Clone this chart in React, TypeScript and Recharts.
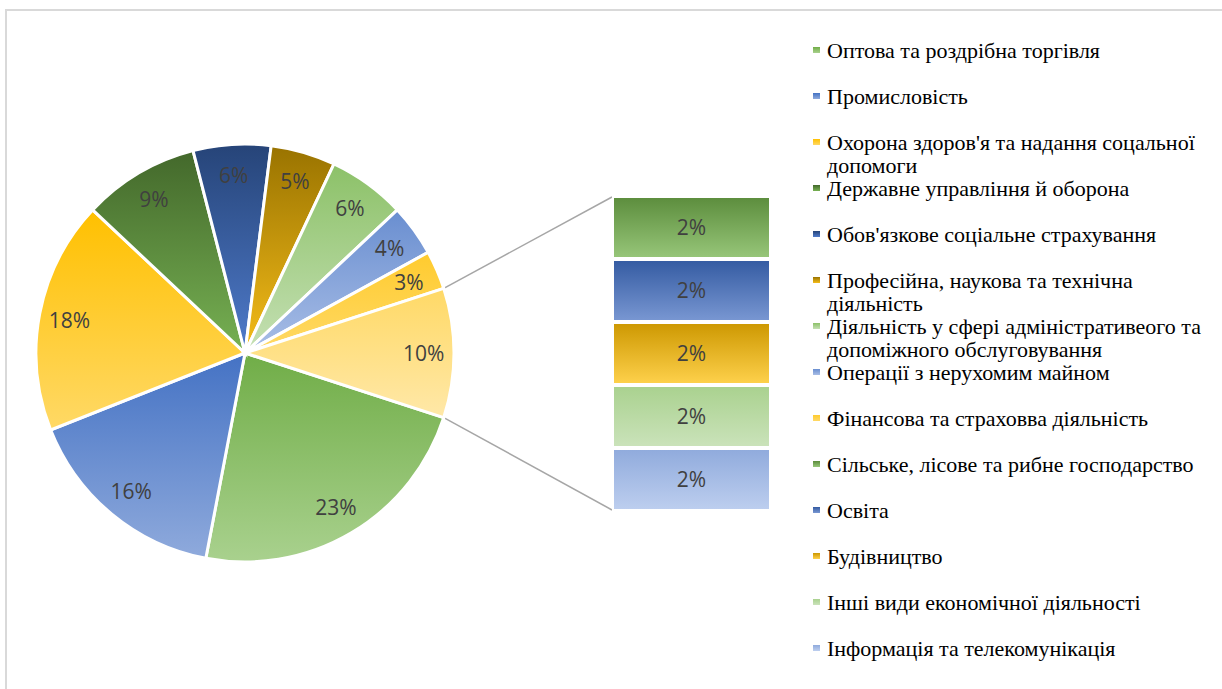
import React from "react";
import { PieChart, Pie, Cell, BarChart, Bar, XAxis, YAxis, LabelList } from "recharts";

// main pie (last slice = sum of the small branches shown in the bar)
const pieNames = [
  "Оптова та роздрібна торгівля",
  "Промисловість",
  "Охорона здоров'я та надання соцальної допомоги",
  "Державне управління й оборона",
  "Обов'язкове соціальне страхування",
  "Професійна, наукова та технічна діяльність",
  "Діяльність у сфері адміністративеого та допоміжного обслуговування",
  "Операції з нерухомим майном",
  "Фінансова та страховва діяльність",
  "Інші",
];
const pieValues = [23, 16, 18, 9, 6, 5, 6, 4, 3, 10];
const pieTop = ["#70AD47", "#4472C4", "#FFC000", "#43682B", "#264478", "#997300", "#8CC168", "#698ED0", "#FFCB2E", "#FFD966"];
const pieBottom = ["#A9D18E", "#8FAADC", "#FFD966", "#77B153", "#4F7BCB", "#F5BD1A", "#C5E0B4", "#A9BEE6", "#FFD966", "#FFE8A8"];

// secondary bar
const barNames = [
  "Сільське, лісове та рибне господарство",
  "Освіта",
  "Будівництво",
  "Інші види економічної діяльності",
  "Інформація та телекомунікація",
];
const barValues = [2, 2, 2, 2, 2];
const barTop = ["#5B8C3C", "#335AA1", "#CC9700", "#A9D18E", "#8FAADC"];
const barBottom = ["#98C77A", "#7A98D3", "#FFD24D", "#CBE3BB", "#BECFEF"];

const PIE_CX = 245;
const PIE_CY = 353;
const PIE_R = 209;
const BAR_LEFT = 612;
const BAR_TOP = 196;
const BAR_W = 159;
const BAR_H = 315;

const RAD = Math.PI / 180;
const pieTotal = pieValues.reduce((a, b) => a + b, 0);
const halfOther = (pieValues[pieValues.length - 1] / pieTotal) * 180;

const pieData = pieNames.map((name, i) => ({ name, value: pieValues[i] }));
const barRow: Record<string, number | string> = { name: "other" };
barValues.forEach((v, i) => (barRow["b" + i] = v));

const labelFont = "'Open Sans', 'DejaVu Sans', sans-serif";

function renderPieLabel(p: any) {
  const r = p.outerRadius * 0.855;
  const x = p.cx + r * Math.cos(-p.midAngle * RAD);
  const y = p.cy + r * Math.sin(-p.midAngle * RAD);
  const v = p.value ?? p.payload?.value;
  return (
    <text x={x} y={y} textAnchor="middle" dominantBaseline="central" fill="#404040" fontSize={21} fontFamily={labelFont}>
      {v}%
    </text>
  );
}

export default function App() {
  const edgeX = PIE_CX + PIE_R * Math.cos(halfOther * RAD);
  const edgeDy = PIE_R * Math.sin(halfOther * RAD);
  const legendNames = [...pieNames.slice(0, 9), ...barNames];
  const legendTop = [...pieTop.slice(0, 9), ...barTop];
  const legendBottom = [...pieBottom.slice(0, 9), ...barBottom];

  return (
    <div style={{ position: "absolute", left: 0, top: 0, width: 1222, height: 689, overflow: "hidden", background: "#fff" }}>
      <div style={{ position: "absolute", left: 5, top: 9, width: 1240, height: 720, border: "2px solid #d9d9d9" }} />

      <svg width={1222} height={689} style={{ position: "absolute", left: 0, top: 0 }}>
        <line x1={edgeX} y1={PIE_CY - edgeDy} x2={BAR_LEFT} y2={BAR_TOP + 1} stroke="#a6a6a6" strokeWidth={1.5} />
        <line x1={edgeX} y1={PIE_CY + edgeDy} x2={BAR_LEFT} y2={BAR_TOP + BAR_H - 1} stroke="#a6a6a6" strokeWidth={1.5} />
      </svg>

      <div style={{ position: "absolute", left: 0, top: 0 }}>
        <PieChart width={600} height={689} margin={{ top: 0, right: 0, bottom: 0, left: 0 }}>
          <defs>
            {pieTop.map((c, i) => (
              <linearGradient key={i} id={"pg" + i} x1="0" y1="0" x2="0" y2="1">
                <stop offset="0%" stopColor={c} />
                <stop offset="100%" stopColor={pieBottom[i]} />
              </linearGradient>
            ))}
          </defs>
          <Pie
            data={pieData}
            dataKey="value"
            cx={PIE_CX}
            cy={PIE_CY}
            outerRadius={PIE_R}
            startAngle={-halfOther}
            endAngle={-halfOther - 360}
            stroke="#fff"
            strokeWidth={3}
            label={renderPieLabel}
            labelLine={false}
            isAnimationActive={false}
          >
            {pieData.map((d, i) => (
              <Cell key={d.name} fill={`url(#pg${i})`} />
            ))}
          </Pie>
        </PieChart>
      </div>

      <div style={{ position: "absolute", left: BAR_LEFT, top: BAR_TOP }}>
        <BarChart width={BAR_W} height={BAR_H} data={[barRow]} margin={{ top: 0, right: 0, bottom: 0, left: 0 }} barCategoryGap={0}>
          <defs>
            {barTop.map((c, i) => (
              <linearGradient key={i} id={"bg" + i} x1="0" y1="0" x2="0" y2="1">
                <stop offset="0%" stopColor={c} />
                <stop offset="100%" stopColor={barBottom[i]} />
              </linearGradient>
            ))}
          </defs>
          <XAxis dataKey="name" hide />
          <YAxis hide reversed domain={[0, 10]} />
          {barValues.map((_, i) => (
            <Bar key={i} dataKey={"b" + i} stackId="s" fill={`url(#bg${i})`} stroke="#fff" strokeWidth={4} isAnimationActive={false}>
              <LabelList
                dataKey={"b" + i}
                position="center"
                formatter={(v: any) => `${v}%`}
                fill="#404040"
                fontSize={21}
                fontFamily={labelFont}
              />
            </Bar>
          ))}
        </BarChart>
      </div>

      <div style={{ position: "absolute", left: 813, top: 0 }}>
        {legendNames.map((n, i) => (
          <div key={n} style={{ position: "absolute", left: 0, top: 38.5 + 46 * i, width: 410, display: "flex" }}>
            <div
              style={{
                width: 7,
                height: 6,
                marginTop: 8,
                flex: "none",
                background: `linear-gradient(${legendTop[i]}, ${legendBottom[i]})`,
              }}
            />
            <div
              style={{
                marginLeft: 7,
                width: 392,
                fontFamily: "'Liberation Serif', 'Times New Roman', serif",
                fontSize: 22,
                lineHeight: "23px",
                color: "#000",
              }}
            >
              {n}
            </div>
          </div>
        ))}
      </div>
    </div>
  );
}
